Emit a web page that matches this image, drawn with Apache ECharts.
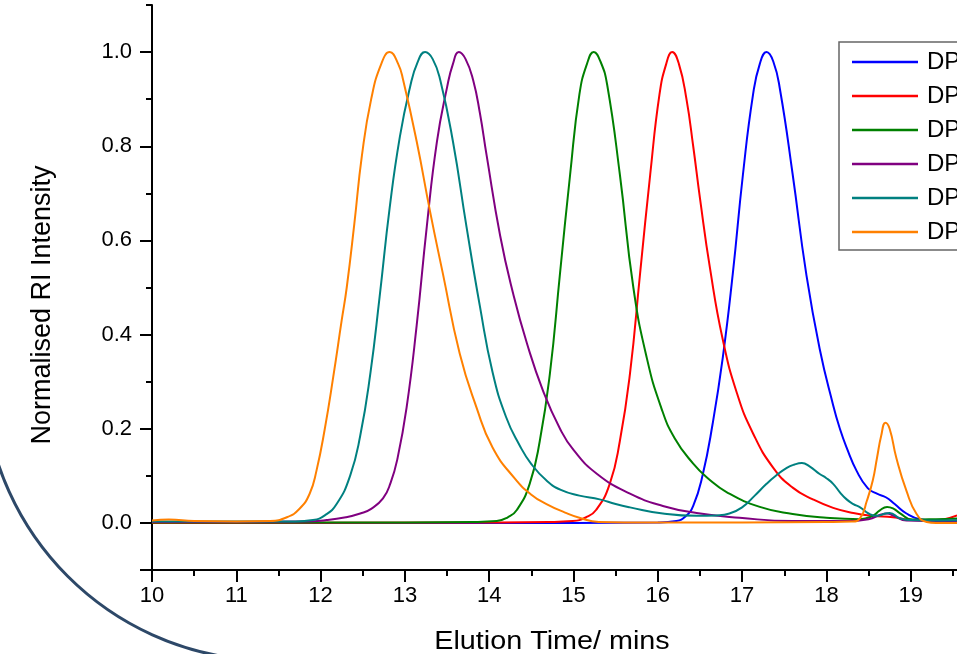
<!DOCTYPE html>
<html>
<head>
<meta charset="utf-8">
<script src="https://cdn.jsdelivr.net/npm/echarts@6/dist/echarts.min.js"></script>
<style>
html,body{margin:0;padding:0;background:#fff;}
#chart{width:957px;height:654px;}
</style>
</head>
<body>
<div id="chart"></div>
<script>
// ---- data (elution time [min], normalised RI intensity) ----
const seriesNames = ['DP 10', 'DP 20', 'DP 30', 'DP 50', 'DP 75', 'DP 100'];
const seriesColors = ['#0000ff', '#ff0000', '#008000', '#800080', '#008080', '#ff8000'];

const blueData = [[10,0.0],[15,0.0],[16.0,0.001],[16.22,0.004],[16.33,0.014],[16.42,0.036],[16.53,0.1],[16.65,0.21],[16.77,0.35],[16.89,0.53],[17.01,0.74],[17.13,0.91],[17.21,0.975],[17.29,1.0],[17.37,0.98],[17.45,0.92],[17.60,0.74],[17.76,0.53],[17.92,0.37],[18.08,0.25],[18.16,0.2],[18.24,0.16],[18.36,0.11],[18.49,0.074],[18.6,0.062],[18.71,0.054],[18.81,0.04],[18.95,0.02],[19.11,0.008],[19.35,0.004],[19.6,0.005]];

const redData = [[10,0.0],[14,0.001],[14.7,0.002],[14.99,0.004],[15.15,0.012],[15.27,0.028],[15.43,0.083],[15.55,0.174],[15.67,0.317],[15.79,0.53],[15.91,0.74],[16.02,0.91],[16.1,0.975],[16.17,1.0],[16.25,0.975],[16.34,0.9],[16.42,0.8],[16.50,0.69],[16.62,0.54],[16.77,0.39],[16.94,0.275],[17.13,0.19],[17.37,0.117],[17.6,0.075],[17.84,0.05],[18.08,0.032],[18.32,0.021],[18.55,0.015],[18.79,0.012],[19.02,0.006],[19.26,0.005],[19.4,0.008],[19.55,0.016]];

const greenData = [[10,0.001],[13,0.001],[13.8,0.002],[14.09,0.004],[14.22,0.012],[14.33,0.028],[14.48,0.083],[14.60,0.174],[14.72,0.317],[14.84,0.53],[14.96,0.74],[15.07,0.91],[15.16,0.975],[15.24,1.0],[15.32,0.98],[15.40,0.93],[15.55,0.74],[15.71,0.5],[15.87,0.35],[16.04,0.245],[16.2,0.18],[16.42,0.126],[16.6,0.094],[16.82,0.065],[17.21,0.034],[17.6,0.019],[18.0,0.011],[18.4,0.008],[18.55,0.015],[18.63,0.026],[18.72,0.034],[18.8,0.03],[18.87,0.021],[19.02,0.007],[19.3,0.008],[19.6,0.01]];

const purpleData = [[10,0.002],[11,0.002],[11.8,0.003],[12.07,0.006],[12.3,0.012],[12.47,0.02],[12.6,0.03],[12.74,0.052],[12.83,0.085],[12.91,0.135],[13.02,0.245],[13.14,0.42],[13.26,0.63],[13.38,0.81],[13.50,0.925],[13.57,0.975],[13.64,1.0],[13.72,0.985],[13.81,0.94],[13.89,0.87],[13.97,0.78],[14.13,0.61],[14.28,0.49],[14.45,0.38],[14.64,0.28],[14.84,0.2],[15.0,0.155],[15.28,0.104],[15.67,0.062],[16.06,0.036],[16.46,0.021],[16.97,0.011],[17.6,0.004],[18.24,0.004],[18.5,0.008],[18.65,0.018],[18.72,0.02],[18.8,0.015],[18.95,0.005],[19.2,0.004],[19.6,0.005]];

const tealData = [[10,0.003],[11,0.003],[11.7,0.003],[11.91,0.006],[12.05,0.016],[12.19,0.04],[12.35,0.1],[12.47,0.185],[12.59,0.317],[12.70,0.48],[12.82,0.67],[12.94,0.82],[13.06,0.925],[13.15,0.978],[13.24,1.0],[13.33,0.985],[13.42,0.94],[13.57,0.81],[13.73,0.63],[13.89,0.46],[14.04,0.32],[14.2,0.225],[14.36,0.165],[14.5,0.125],[14.68,0.09],[14.85,0.07],[15.07,0.058],[15.31,0.05],[15.5,0.04],[15.67,0.033],[16.06,0.02],[16.46,0.015],[16.7,0.016],[16.85,0.02],[17.0,0.033],[17.15,0.058],[17.29,0.083],[17.4,0.1],[17.53,0.117],[17.62,0.124],[17.71,0.127],[17.8,0.12],[17.92,0.104],[18.0,0.095],[18.08,0.083],[18.16,0.065],[18.24,0.05],[18.32,0.04],[18.4,0.033],[18.5,0.02],[18.6,0.015],[18.7,0.02],[18.75,0.021],[18.87,0.01],[19.0,0.006],[19.2,0.005],[19.6,0.006]];

const orangeData = [[10.0,0.005],[10.2,0.007],[10.5,0.004],[11.0,0.003],[11.4,0.004],[11.6,0.012],[11.75,0.03],[11.87,0.062],[11.95,0.11],[12.05,0.2],[12.15,0.31],[12.25,0.43],[12.31,0.5],[12.4,0.635],[12.49,0.78],[12.6,0.9],[12.72,0.975],[12.82,1.0],[12.92,0.975],[12.98,0.94],[13.14,0.81],[13.30,0.66],[13.45,0.53],[13.65,0.36],[13.85,0.245],[14.04,0.16],[14.3,0.095],[14.5,0.06],[14.68,0.04],[14.9,0.022],[15.07,0.011],[15.3,0.002],[15.6,0.001],[16,0.001],[17,0.001],[18,0.002],[18.3,0.003],[18.4,0.01],[18.48,0.047],[18.55,0.09],[18.6,0.138],[18.65,0.185],[18.7,0.213],[18.75,0.2],[18.83,0.138],[18.95,0.068],[19.07,0.019],[19.19,0.002],[19.3,0.0],[19.6,0.0]];

const allData = [blueData, redData, greenData, purpleData, tealData, orangeData];

const yLabelValues = [0, 0.2, 0.4, 0.6, 0.8, 1.0];
const yMajorTicks = [-0.1, 0, 0.2, 0.4, 0.6, 0.8, 1.0];
const yMinorTicks = [0.1, 0.3, 0.5, 0.7, 0.9, 1.1];

const xTitle = 'Elution Time/ mins';
const yTitle = 'Normalised RI Intensity';

// ---- chart ----
const FONT = "'Liberation Sans', Arial, sans-serif";
const chart = echarts.init(document.getElementById('chart'), null, {renderer: 'canvas'});
const axisLineStyle = {color: '#000', width: 2};

const option = {
  backgroundColor: '#fff',
  animation: false,
  grid: {left: 152, top: 5, right: -38, bottom: 84, outerBoundsMode: 'none'},
  legend: {
    orient: 'vertical', left: 839, top: 42,
    padding: [8, 40, 6, 13],
    icon: 'rect',
    itemWidth: 66, itemHeight: 2.5, itemGap: 10,
    borderColor: '#666', borderWidth: 1.5,
    textStyle: {fontSize: 24, lineHeight: 22, color: '#000', fontFamily: FONT, padding: [0, 0, 0, 4]},
    data: seriesNames
  },
  xAxis: {
    type: 'value', min: 10, max: 20, interval: 1,
    axisLine: {show: true, lineStyle: axisLineStyle, onZero: false},
    axisTick: {show: true, length: 12, lineStyle: axisLineStyle},
    minorTick: {show: true, splitNumber: 2, length: 6, lineStyle: axisLineStyle},
    splitLine: {show: false},
    minorSplitLine: {show: false},
    axisLabel: {fontSize: 22, color: '#000', fontFamily: FONT, margin: 15}
  },
  yAxis: [{
    type: 'value', min: -0.1, max: 1.1, interval: 0.1, position: 'left',
    axisLine: {show: true, lineStyle: axisLineStyle, onZero: false},
    axisTick: {show: true, length: 12, lineStyle: axisLineStyle, customValues: yMajorTicks},
    splitLine: {show: false},
    axisLabel: {fontSize: 22, color: '#000', fontFamily: FONT, margin: 20,
      customValues: yLabelValues, formatter: v => v.toFixed(1)}
  }, {
    type: 'value', min: -0.1, max: 1.1, interval: 0.1, position: 'left', offset: 0,
    axisLine: {show: false},
    axisTick: {show: true, length: 6, lineStyle: axisLineStyle, customValues: yMinorTicks},
    splitLine: {show: false},
    axisLabel: {show: false}
  }],
  graphic: [
    {type: 'arc', silent: true, z: 0,
      shape: {cx: 271, cy: 373, r: 287.5, startAngle: 95 * Math.PI / 180, endAngle: 175 * Math.PI / 180, clockwise: true},
      style: {stroke: '#2d4868', lineWidth: 3, fill: null}},
    {type: 'text', x: 43, y: 305, rotation: Math.PI / 2,
      style: {text: yTitle, fontSize: 27, fontFamily: FONT, fill: '#000', align: 'center', verticalAlign: 'middle'}},
    {type: 'text', x: 552, y: 642, scaleX: 1.15,
      style: {text: xTitle, fontSize: 25, fontFamily: FONT, fill: '#000', align: 'center', verticalAlign: 'middle'}}
  ],
  series: seriesNames.map((name, i) => ({
    name: name, type: 'line', yAxisIndex: 0,
    data: allData[i], smooth: 0.5, symbol: 'none', showSymbol: false,
    lineStyle: {color: seriesColors[i], width: 2},
    itemStyle: {color: seriesColors[i]}
  }))
};
chart.setOption(option);
</script>
</body>
</html>
